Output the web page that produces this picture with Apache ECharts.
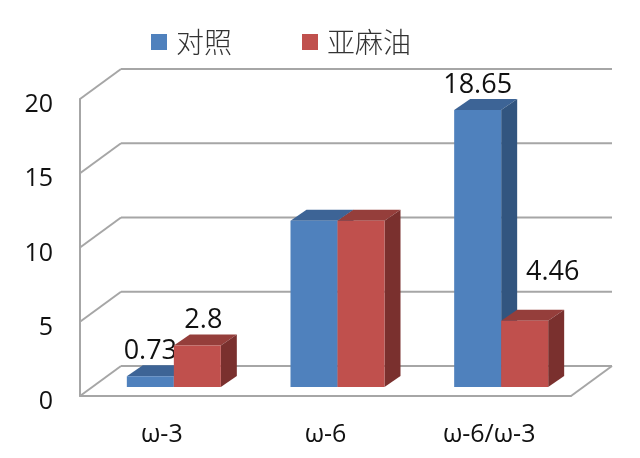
<!DOCTYPE html>
<html><head><meta charset="utf-8">
<script src="https://cdn.jsdelivr.net/npm/echarts@6/dist/echarts.min.js"></script>
<style>html,body{margin:0;padding:0;background:#fff}#c{width:640px;height:458px}</style>
</head><body><div id="c"></div>
<script>
const categories = ['ω-3', 'ω-6', 'ω-6/ω-3'];
const controlName = '对照';
const flaxName = '亚麻油';
const controlValues = [0.73, 11.2, 18.65];
const flaxValues = [2.8, 11.2, 4.46];
const yTicks = [0, 5, 10, 15, 20];
const labelledCategories = [0, 2];

const LATO = '"Open Sans","Noto Sans",sans-serif';
const WALL = {dx: 41, dy: -30};
const BAR = {w: 47, sx: 12, sy: -9, dx: 16, dy: -11};
const GRAY = '#a6a6a6';

function wallItem(params, api) {
  const cs = params.coordSys;
  const p = api.coord([0, api.value(1)]);
  const x0 = cs.x, x1 = cs.x + cs.width, y = p[1];
  const line = (a, b, c, d) => ({type: 'line', shape: {x1: a, y1: b, x2: c, y2: d},
    style: {stroke: GRAY, lineWidth: 2, fill: null}});
  const kids = [
    line(x0, y, x0 + WALL.dx, y + WALL.dy),
    line(x0 + WALL.dx, y + WALL.dy, x1 + WALL.dx, y + WALL.dy)
  ];
  if (api.value(1) === 0) kids.push(line(x1, y, x1 + WALL.dx, y + WALL.dy));
  return {type: 'group', children: kids};
}

function barRenderer(side, cols, labelFn) {
  return function (params, api) {
    const i = api.value(0), v = api.value(1);
    const top = api.coord([i, v]), base = api.coord([i, 0]);
    const xl = top[0] + BAR.sx + (side < 0 ? -BAR.w : 0);
    const xr = xl + BAR.w;
    const yt = top[1] + BAR.sy, yb = base[1] + BAR.sy;
    const poly = (pts, fill) => ({type: 'polygon', shape: {points: pts}, style: {fill}});
    const kids = [
      poly([[xl, yt], [xl + BAR.dx, yt + BAR.dy], [xr + BAR.dx, yt + BAR.dy], [xr, yt]], cols.top),
      poly([[xr, yt], [xr + BAR.dx, yt + BAR.dy], [xr + BAR.dx, yb + BAR.dy], [xr, yb]], cols.side),
      {type: 'rect', shape: {x: xl, y: yt, width: BAR.w, height: yb - yt}, style: {fill: cols.front}}
    ];
    if (labelledCategories.includes(i)) {
      const o = labelFn(i);
      kids.push({type: 'text', z2: 50, style: {
        text: String(v), x: (xl + xr) / 2 + o[0], y: yt + o[1],
        font: '27px ' + LATO, fill: '#111', align: 'center', verticalAlign: 'middle'}});
    }
    return {type: 'group', children: kids};
  };
}

const chart = echarts.init(document.getElementById('c'), null, {renderer: 'canvas'});
chart.setOption({
  animation: false,
  backgroundColor: '#fff',
  grid: {left: 80, top: 99, width: 491, height: 297, containLabel: false},
  legend: {
    left: 146, top: 23, itemWidth: 16, itemHeight: 16, itemGap: 70, icon: 'rect',
    data: [controlName, flaxName],
    textStyle: {fontFamily: '"Noto Sans CJK SC"', fontWeight: 300, fontSize: 28, color: '#333', padding: [0, 0, 0, 4]}
  },
  xAxis: {
    type: 'category', data: categories,
    axisTick: {show: false},
    axisLine: {show: true, lineStyle: {color: GRAY, width: 2}},
    axisLabel: {margin: 26, fontFamily: LATO, fontSize: 25, color: '#111'},
    splitLine: {show: false}
  },
  yAxis: {
    type: 'value', min: 0, max: 20, interval: 5,
    axisTick: {show: false},
    axisLine: {show: true, lineStyle: {color: GRAY, width: 2}},
    axisLabel: {margin: 27, fontFamily: LATO, fontSize: 25, color: '#111', verticalAlign: 'top', lineHeight: 12},
    splitLine: {show: false}
  },
  series: [
    {type: 'custom', name: 'walls', silent: true, z: 1, renderItem: wallItem,
     data: yTicks.map(t => [0, t]), encode: {x: 0, y: 1}},
    {type: 'custom', name: controlName, z: 2, itemStyle: {color: '#4f81bd'},
     renderItem: barRenderer(-1, {front: '#4f81bd', top: '#3d6496', side: '#32557f'}, () => [0, -25]),
     data: controlValues.map((v, i) => [i, v]), encode: {x: 0, y: 1}},
    {type: 'custom', name: flaxName, z: 3, itemStyle: {color: '#c0504d'},
     renderItem: barRenderer(1, {front: '#c0504d', top: '#953e3b', side: '#7a302e'},
       i => i === 2 ? [28, -48] : [6, -25]),
     data: flaxValues.map((v, i) => [i, v]), encode: {x: 0, y: 1}}
  ]
});
</script></body></html>
